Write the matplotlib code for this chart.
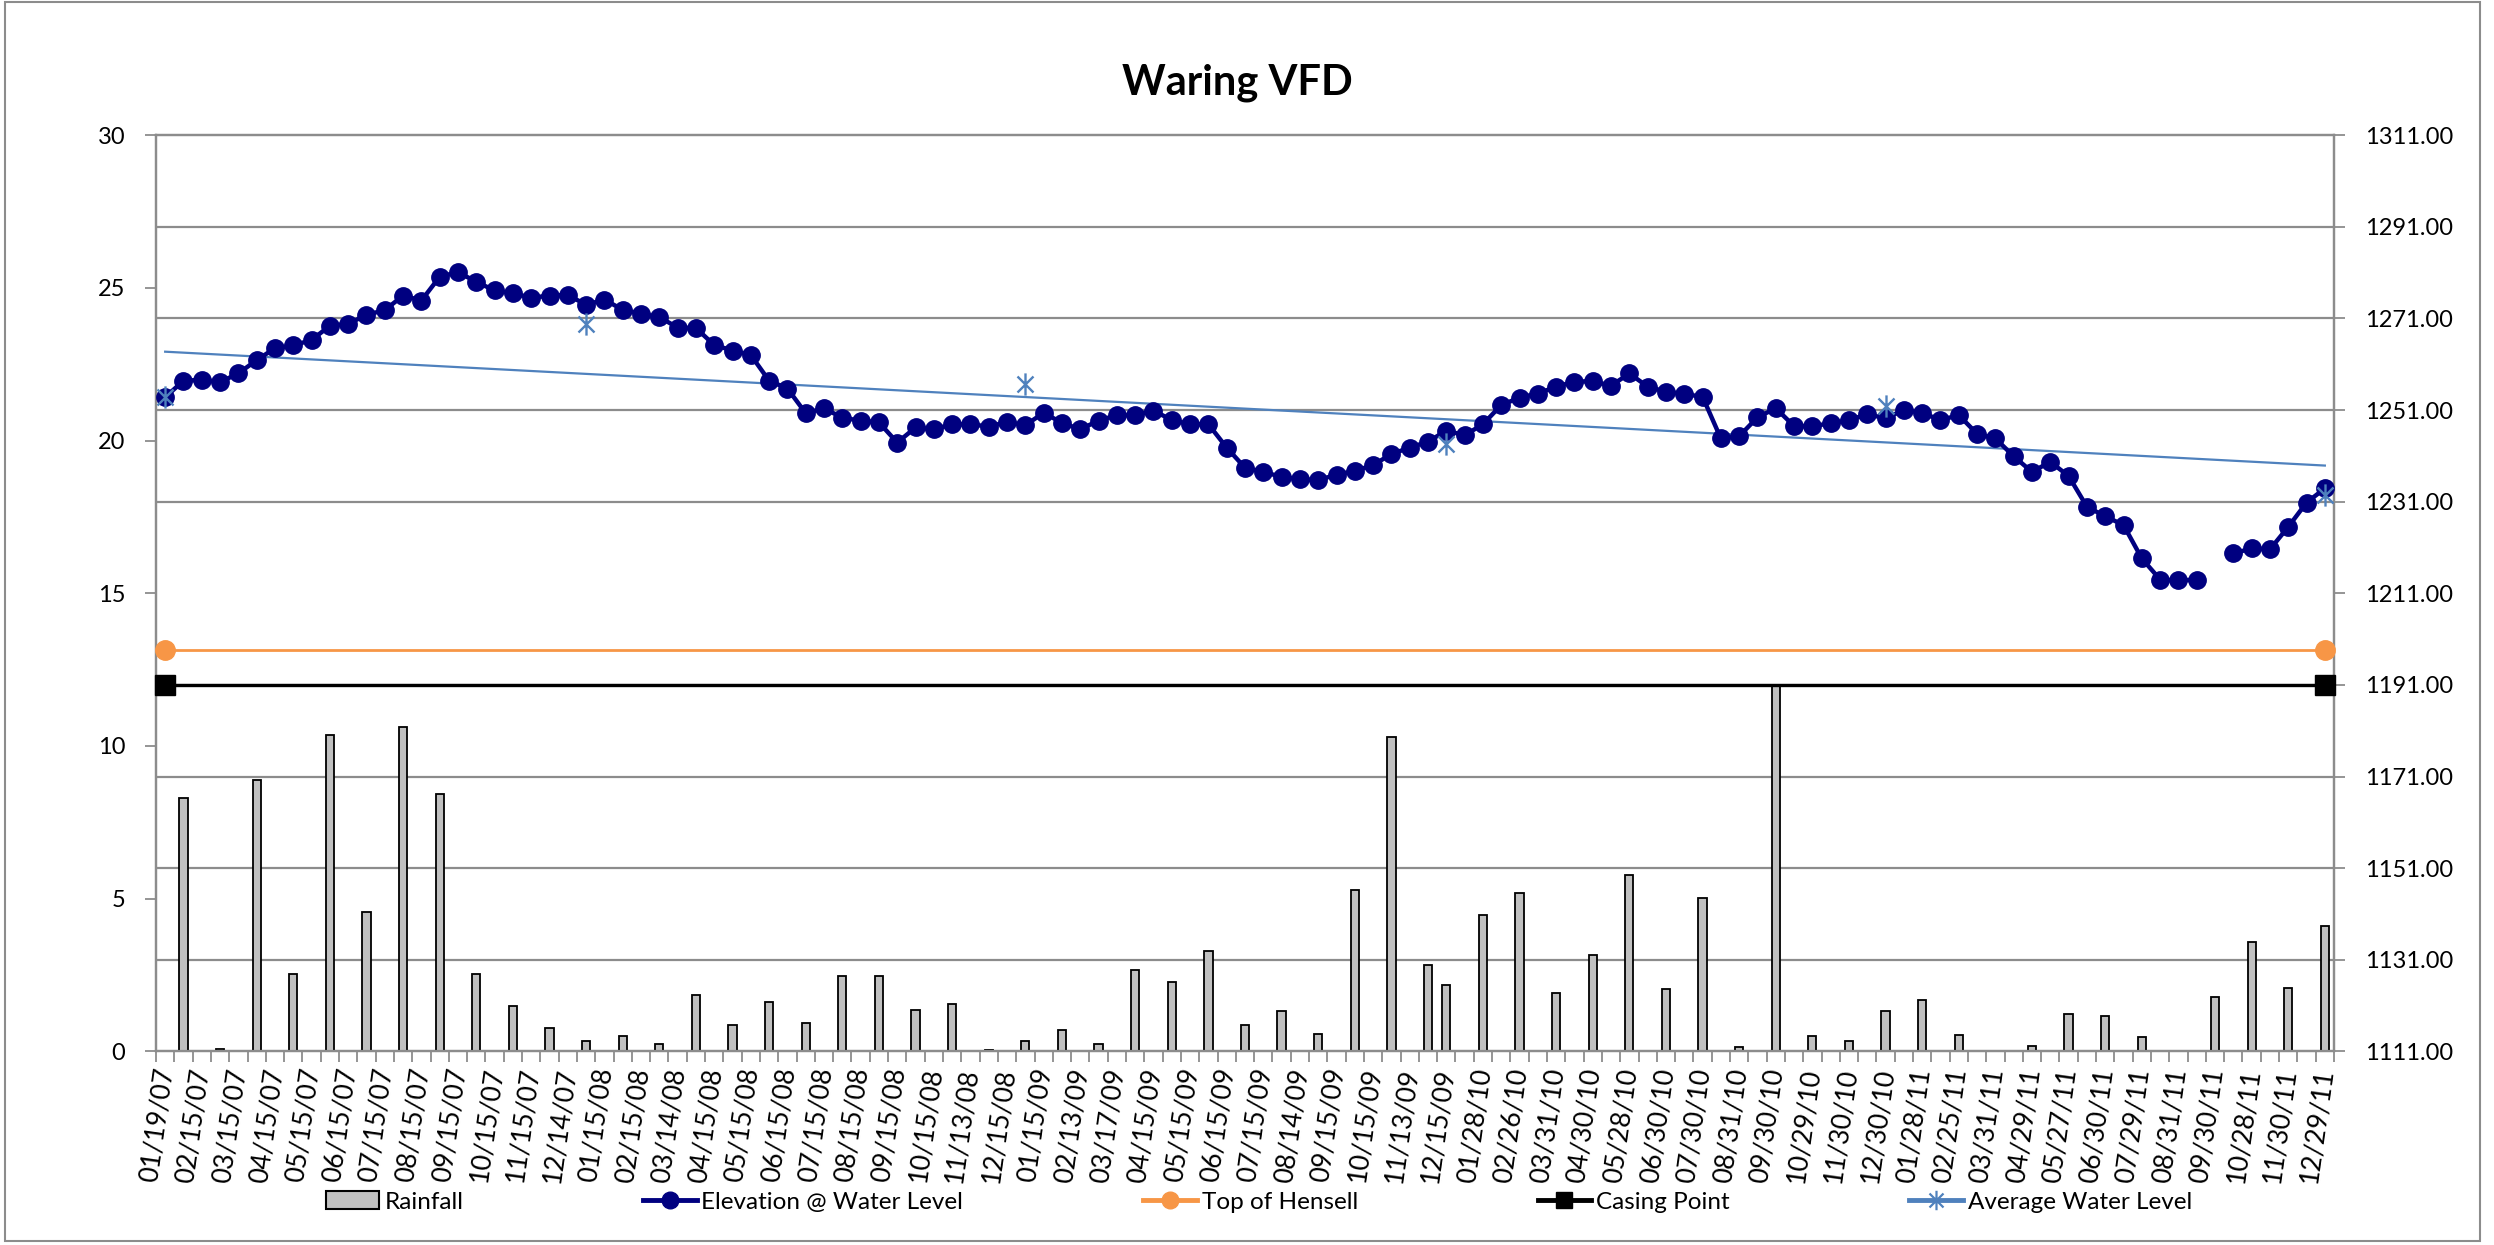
import numpy as np
import matplotlib
matplotlib.use('Agg')
import matplotlib.pyplot as plt
from matplotlib.path import Path
from matplotlib.patches import Rectangle, Patch
from matplotlib.lines import Line2D

plt.rcParams['font.family'] = ['Lato', 'DejaVu Sans']

# ---------------- data ----------------
title = "Waring VFD"

# labels shown on every second sampling date
date_labels = [
    "01/19/07", "02/15/07", "03/15/07", "04/15/07", "05/15/07", "06/15/07",
    "07/15/07", "08/15/07", "09/15/07", "10/15/07", "11/15/07", "12/14/07",
    "01/15/08", "02/15/08", "03/14/08", "04/15/08", "05/15/08", "06/15/08",
    "07/15/08", "08/15/08", "09/15/08", "10/15/08", "11/13/08", "12/15/08",
    "01/15/09", "02/13/09", "03/17/09", "04/15/09", "05/15/09", "06/15/09",
    "07/15/09", "08/14/09", "09/15/09", "10/15/09", "11/13/09", "12/15/09",
    "01/28/10", "02/26/10", "03/31/10", "04/30/10", "05/28/10", "06/30/10",
    "07/30/10", "08/31/10", "09/30/10", "10/29/10", "11/30/10", "12/30/10",
    "01/28/11", "02/25/11", "03/31/11", "04/29/11", "05/27/11", "06/30/11",
    "07/29/11", "08/31/11", "09/30/11", "10/28/11", "11/30/11", "12/29/11",
]
label_every = 2

# Elevation @ Water Level (ft), one value per sampling date (None = no reading)
elevation = [
    1253.8, 1257.4, 1257.6, 1257.1, 1259.0, 1261.9, 1264.5, 1265.1, 1266.3, 1269.4,
    1269.8, 1271.8, 1272.8, 1276.0, 1274.9, 1280.1, 1281.1, 1279.0, 1277.1, 1276.5,
    1275.5, 1276.0, 1276.1, 1274.0, 1275.1, 1272.9, 1272.0, 1271.3, 1269.0, 1268.9,
    1265.2, 1264.0, 1263.0, 1257.4, 1255.7, 1250.3, 1251.4, 1249.3, 1248.7, 1248.3,
    1243.9, 1247.2, 1246.8, 1247.9, 1247.9, 1247.4, 1248.4, 1247.7, 1250.4, 1248.2,
    1246.8, 1248.7, 1249.9, 1249.9, 1250.9, 1248.8, 1247.9, 1247.9, 1242.8, 1238.4,
    1237.5, 1236.4, 1235.9, 1235.7, 1236.9, 1237.7, 1239.0, 1241.4, 1242.8, 1244.1,
    1246.5, 1245.5, 1247.9, 1252.1, 1253.7, 1254.6, 1256.1, 1257.2, 1257.3, 1256.3,
    1259.0, 1256.1, 1255.0, 1254.5, 1253.9, 1244.8, 1245.3, 1249.4, 1251.4, 1247.5,
    1247.5, 1248.1, 1248.8, 1250.1, 1249.2, 1251.0, 1250.4, 1248.8, 1249.9, 1245.8,
    1244.8, 1240.9, 1237.5, 1239.7, 1236.6, 1229.9, 1227.8, 1225.9, 1218.6, 1214.0,
    1213.8, 1214.0, None, 1219.7, 1220.8, 1220.6, 1225.5, 1230.8, 1233.9,
]

# Rainfall (in), monthly totals (None = no rainfall entry on that date)
N = None
rainfall = [
    N, 8.31, N, 0.07, N, 8.89, N, 2.55, N, 10.37,
    N, 4.56, N, 10.61, N, 8.42, N, 2.55, N, 1.48,
    N, 0.77, N, 0.34, N, 0.51, N, 0.24, N, 1.84,
    N, 0.86, N, 1.62, N, 0.94, N, 2.48, N, 2.47,
    N, 1.36, N, 1.54, N, 0.05, N, 0.33, N, 0.69,
    N, 0.25, N, 2.66, N, 2.28, N, 3.29, N, 0.86,
    N, 1.33, N, 0.56, N, 5.29, N, 10.31, N, 2.84,
    2.17, N, 4.48, N, 5.18, N, 1.91, N, 3.16, N,
    5.77, N, 2.03, N, 5.02, N, 0.15, N, 12.0, N,
    0.49, N, 0.33, N, 1.32, N, 1.68, N, 0.55, N,
    0.02, N, 0.17, N, 1.24, N, 1.16, N, 0.47, N,
    0.02, N, 1.79, N, 3.57, N, 2.09, N, 4.09,
]

# Average Water Level (yearly averages)
avg_water = [None] * 119
avg_water[0] = 1253.9
avg_water[23] = 1269.7
avg_water[47] = 1256.7
avg_water[70] = 1243.6
avg_water[94] = 1251.9
avg_water[118] = 1232.5

top_of_hensell = 1198.6
casing_point = 1191.0

# axis scales
rain_min, rain_max, rain_step = 0, 30, 5
elev_min, elev_max, elev_step = 1111, 1311, 20

# ---------------- styles ----------------
NAVY = '#000080'
ORANGE = '#F79646'
BLUE = '#4F81BD'
GRID = '#8C8C8C'
BAR = '#C0C0C0'
FS = 17
XFS = 19
LFS = 17.5

star = Path([(0, -1), (0, 1), (-0.72, -0.72), (0.72, 0.72), (-0.72, 0.72), (0.72, -0.72)],
            [Path.MOVETO, Path.LINETO] * 3)

W, H = 2494, 1245
fig = plt.figure(figsize=(W / 100, H / 100), dpi=100)
L, R, T, B = 156, 2334, 135.2, 1051.4
ax = fig.add_axes([L / W, 1 - B / H, (R - L) / W, (B - T) / H])
ax2 = ax.twinx()
ax.set_zorder(1)
ax2.set_zorder(2)
ax2.patch.set_visible(False)

n = len(elevation)
x = np.arange(n)

# rainfall bars (primary)
rx = np.array([i for i in x if rainfall[i] is not None])
rv = np.array([rainfall[i] for i in rx])
ax.bar(rx, rv, width=0.45, color=BAR, edgecolor='black', linewidth=1.3, zorder=3)

ax.set_ylim(rain_min, rain_max)
ax.set_yticks(np.arange(rain_min, rain_max + 1, rain_step))
ax2.set_ylim(elev_min, elev_max)
eticks = np.arange(elev_min, elev_max + 1, elev_step)
ax2.set_yticks(eticks)
ax2.set_yticklabels([f"{v:.2f}" for v in eticks])

# gridlines of secondary axis drawn behind the bars
conv = (eticks - elev_min) / (elev_max - elev_min) * (rain_max - rain_min) + rain_min
ax.set_yticks(conv[1:-1], minor=True)
ax.grid(True, which='minor', axis='y', color=GRID, linewidth=1.6, zorder=0)
ax.tick_params(axis='y', which='minor', length=0)
ax.set_axisbelow(True)

# x axis
ax.set_xlim(-0.5, n - 0.5)
ax.set_xticks(np.arange(n + 1) - 0.5)
ax.set_xticklabels([])
ax.set_xticks(x[::label_every], date_labels, minor=True)
ax.tick_params(axis='x', which='major', length=8, width=1.3, color=GRID, direction='out')
ax.tick_params(axis='x', which='minor', length=0, pad=12, labelsize=XFS)
for lbl in ax.get_xticklabels(minor=True):
    lbl.set_rotation(82)
    lbl.set_ha('right')
    lbl.set_va('center')
    lbl.set_rotation_mode('anchor')

ax.tick_params(axis='y', which='major', length=8, width=1.3, color=GRID, pad=14, labelsize=FS)
ax2.tick_params(axis='y', which='major', length=8, width=1.3, color=GRID, pad=14, labelsize=FS)

for a in (ax, ax2):
    for s in a.spines.values():
        s.set_color(GRID)
        s.set_linewidth(1.6)

# elevation line
ev = np.array([np.nan if v is None else v for v in elevation], dtype=float)
ax2.plot(x, ev, color=NAVY, lw=3.2, marker='o', ms=12.5, mfc=NAVY, mec=NAVY, zorder=5)

# top of Hensell and casing point
ends = x[[0, -1]]
ax2.plot(ends, [top_of_hensell] * 2, color=ORANGE, lw=2, marker='o', ms=14, mfc=ORANGE, mec=ORANGE, zorder=4,
         clip_on=False)
ax2.plot(ends, [casing_point] * 2, color='black', lw=2.4, marker='s', ms=14, mfc='black', mec='black', zorder=4,
         clip_on=False)

# average water level + linear trendline
ax_idx = np.array([i for i in x if avg_water[i] is not None])
ax_val = np.array([avg_water[i] for i in ax_idx])
ax2.plot(ax_idx, ax_val, linestyle='none', marker=star, ms=16, mec=BLUE, mfc='none', mew=1.7, zorder=6,
         clip_on=False)
coef = np.polyfit(ax_idx, ax_val, 1)
ax2.plot(ends, np.polyval(coef, ends), color=BLUE, lw=1.6, zorder=4)

# title
fig.text(1237 / W, 1 - 95 / H, title, ha='center', va='baseline', fontsize=30, fontweight='bold')

# legend
handles = [
    Patch(facecolor=BAR, edgecolor='black', linewidth=1.5),
    Line2D([], [], color=NAVY, lw=3.5, marker='o', ms=12, mfc=NAVY, mec=NAVY),
    Line2D([], [], color=ORANGE, lw=3.5, marker='o', ms=12, mfc=ORANGE, mec=ORANGE),
    Line2D([], [], color='black', lw=3.5, marker='s', ms=12, mfc='black', mec='black'),
    Line2D([], [], color=BLUE, lw=3.5, marker=star, ms=14, mfc='none', mec=BLUE, mew=1.6),
]
names = ["Rainfall", "Elevation @ Water Level", "Top of Hensell", "Casing Point", "Average Water Level"]
fig.legend(handles, names, loc='center', bbox_to_anchor=(1259 / W, 1 - 1202 / H), ncol=5, frameon=False,
           fontsize=LFS, handlelength=2.2, handletextpad=0.2, columnspacing=7.4)

# chart area border
fig.patches.append(Rectangle((5 / W, 1 - 1241 / H), (2480 - 5) / W, (1241 - 2) / H, transform=fig.transFigure,
                             fill=False, edgecolor=GRID, linewidth=1.5))

fig.savefig('out.png', dpi=100)
